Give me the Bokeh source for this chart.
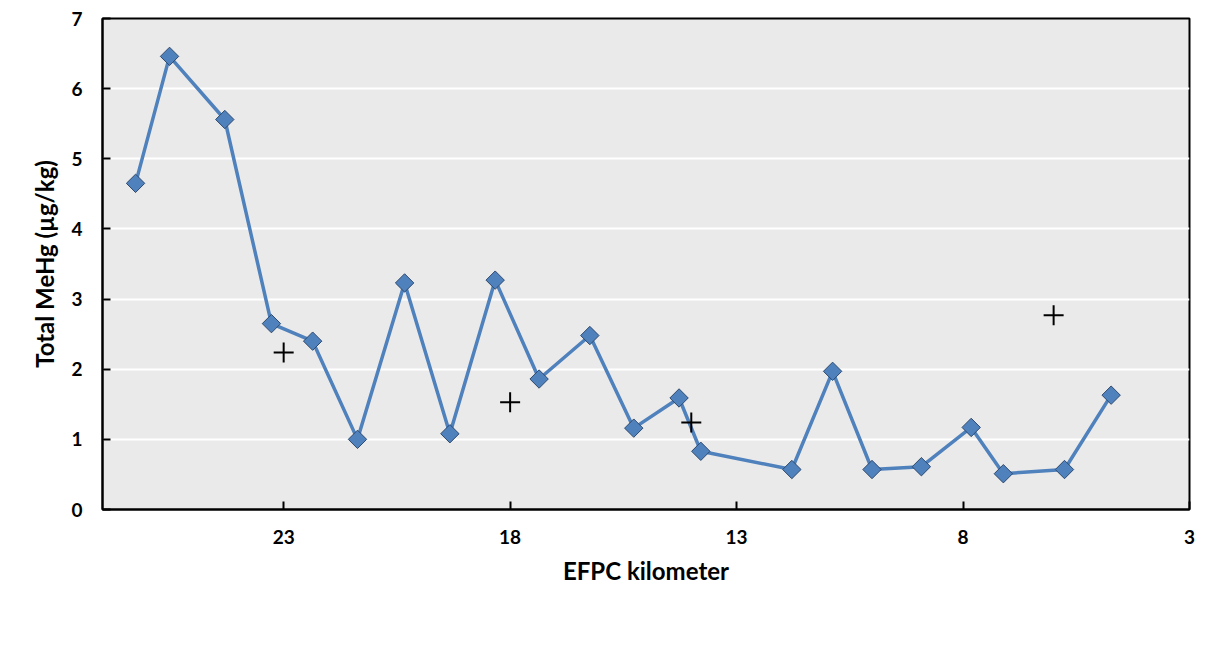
import numpy as np
from bokeh.plotting import figure
from bokeh.models import Range1d, FixedTicker, Legend, LegendItem, ColumnDataSource
from bokeh.embed import file_html
from bokeh.resources import INLINE

# Data
km_fine = [26.27, 25.52, 24.30, 23.27, 22.36, 21.37, 20.33, 19.33, 18.33, 17.36, 16.24,
           15.27, 14.27, 13.79, 11.78, 10.88, 10.01, 8.92, 7.82, 7.11, 5.76, 4.73]
mehg_fine = [4.65, 6.46, 5.56, 2.65, 2.40, 1.00, 3.23, 1.08, 3.27, 1.86, 2.48,
             1.16, 1.59, 0.83, 0.57, 1.97, 0.57, 0.61, 1.17, 0.51, 0.57, 1.63]
km_south = [23.0, 18.0, 14.0, 6.0]
mehg_south = [2.24, 1.53, 1.24, 2.77]
x_ticks = [23, 18, 13, 8, 3]
y_ticks = [0, 1, 2, 3, 4, 5, 6, 7]
series_names = ["125 µm < x < 250 µm", "Southworth 2010"]

FONT = "Lato"
BLUE = "#4F81BD"
BLUE_DARK = "#2E4A6E"

p = figure(output_backend="svg", toolbar_location=None,
           x_range=Range1d(27, 3), y_range=Range1d(0, 7),
           min_border_left=102, min_border_top=18, min_border_right=17, min_border_bottom=0,
           frame_width=1087, frame_height=491)
p.background_fill_color = "#EAEAEA"
p.border_fill_color = "white"
p.outline_line_color = "black"
p.outline_line_width = 2

p.xgrid.grid_line_color = None
p.ygrid.grid_line_color = "white"
p.ygrid.grid_line_width = 2
p.ygrid.ticker = FixedTicker(ticks=y_ticks)

p.xaxis.ticker = FixedTicker(ticks=x_ticks)
p.yaxis.ticker = FixedTicker(ticks=y_ticks)
for ax in (p.xaxis[0], p.yaxis[0]):
    ax.axis_line_color = "black"
    ax.axis_line_width = 2
    ax.major_label_text_font = FONT
    ax.major_label_text_font_style = "bold"
    ax.major_label_text_font_size = "19px"
    ax.major_label_text_color = "black"
    ax.axis_label_text_font = FONT
    ax.axis_label_text_font_style = "bold"
    ax.axis_label_text_font_size = "24px"
    ax.axis_label_text_color = "black"
    ax.minor_tick_line_color = None
    ax.major_tick_in = 8
    ax.major_tick_out = 0
    ax.major_tick_line_width = 2
    ax.major_tick_line_color = "black"

p.xaxis.major_label_standoff = 20
p.xaxis.axis_label = "EFPC kilometer"
p.xaxis.axis_label_standoff = 9

p.yaxis.major_label_standoff = 20
p.yaxis.axis_label = "Total MeHg (µg/kg)"
p.yaxis.axis_label_standoff = 9

src = ColumnDataSource(dict(x=km_fine, y=mehg_fine))
ln = p.line("x", "y", source=src, line_color=BLUE, line_width=3.5)
# legend proxy (hidden beneath the first rotated marker)
proxy = p.scatter(km_fine[:1], mehg_fine[:1], marker="diamond", size=13,
                  fill_color=BLUE, line_color=BLUE_DARK, line_width=1)
sc = p.scatter("x", "y", source=src, marker="square", size=13, angle=np.pi / 4,
               fill_color=BLUE, line_color=BLUE_DARK, line_width=1)
cr = p.scatter(km_south, mehg_south, marker="cross", size=20, line_color="black", line_width=2)

legend = Legend(items=[LegendItem(label=series_names[0], renderers=[ln, proxy]),
                       LegendItem(label=series_names[1], renderers=[cr])],
                orientation="horizontal", location="center")
legend.label_text_font = FONT
legend.label_text_font_style = "bold"
legend.label_text_font_size = "20px"
legend.label_text_color = "black"
legend.border_line_color = "#444444"
legend.border_line_width = 1.5
legend.background_fill_color = "#F4F4F4"
legend.background_fill_alpha = 1
legend.spacing = 38
legend.glyph_width = 40
legend.glyph_height = 30
legend.label_standoff = 6
legend.padding = 5
legend.margin = 8
p.add_layout(legend, "below")

open("out.html", "w").write(file_html(p, INLINE))
